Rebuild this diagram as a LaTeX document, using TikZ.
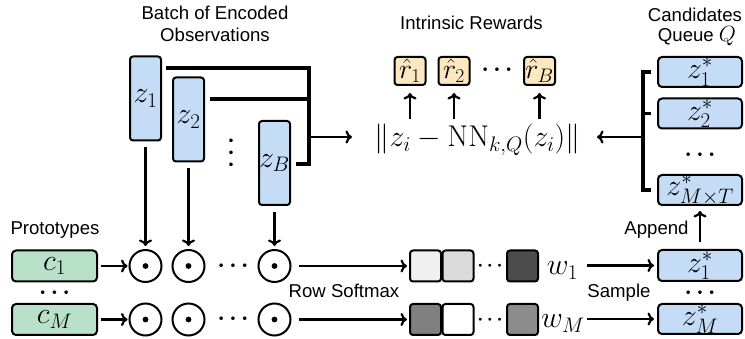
\documentclass[tikz,border=0pt]{standalone}
\usepackage{fix-cm}
\usepackage[no-math]{fontspec}
\setmainfont{Liberation Sans}
\usetikzlibrary{arrows.meta,calc}
\definecolor{zblue}{RGB}{197,220,246}
\definecolor{cgreen}{RGB}{185,224,201}
\definecolor{ryellow}{RGB}{252,232,192}
\newcommand\mfont{\fontsize{30}{34}\selectfont}
\newcommand\rfont{\fontsize{28}{32}\selectfont}
\newcommand\dfont{\fontsize{23}{25}\selectfont\boldmath}
\newcommand\sfont{\fontsize{19}{21}\selectfont\boldmath}
\newcommand\tfont{\fontsize{18.6}{21}\selectfont}
\begin{document}
\begin{tikzpicture}[x=1pt,y=-1pt,
  >={To[length=6.5pt,width=13pt]},
  zbox/.style={draw,line width=2pt,rounded corners=3pt,fill=zblue,minimum width=31pt,minimum height=84pt,inner sep=0pt,font=\mfont},
  qbox/.style={draw,line width=2pt,rounded corners=4pt,fill=zblue,minimum width=84pt,minimum height=30pt,inner sep=0pt,font=\mfont},
  cbox/.style={draw,line width=2pt,rounded corners=4pt,fill=cgreen,minimum width=85pt,minimum height=31pt,inner sep=0pt,font=\mfont},
  rbox/.style={draw,line width=2pt,rounded corners=3pt,fill=ryellow,minimum width=31pt,minimum height=28pt,inner sep=0pt,font=\rfont},
  sq/.style={draw,line width=2pt,rounded corners=3pt,minimum size=31pt,inner sep=0pt},
  odot/.style={circle,draw,line width=2pt,minimum size=32pt,inner sep=0pt,
    path picture={\fill (path picture bounding box.center) circle (2.9pt);}},
  lbl/.style={font=\tfont,anchor=base,inner sep=0pt},
  dots/.style={font=\dfont,anchor=base,inner sep=0pt},
  arr/.style={->,line width=2.2pt},
  brk/.style={line width=3.6pt}]
\useasboundingbox (0,0) rectangle (745,339);

% titles
\node[lbl] (tb1) at (215,19.5) {Batch of Encoded};
\node[lbl] (tb2) at (215,42) {Observations};
\node[lbl] (tir) at (471.5,30) {Intrinsic Rewards};
\node[lbl] (tc1) at (695,22) {Candidates};
\node[lbl] (tc2) at (697,42) {Queue {\fontsize{22}{24}\selectfont$Q$}};
\node[lbl] (tp) at (55,235) {Prototypes};
\node[lbl] (trs) at (344,298) {Row Softmax};
\node[lbl] (tsa) at (619,298) {Sample};
\node[lbl] (tap) at (656.5,235) {Append};

% encoded observations
\node[zbox] (z1) at (145.5,98.5) {$z_1$};
\node[zbox] (z2) at (188.5,119.5) {$z_2$};
\node[zbox] (zB) at (274.5,163) {$z_B$};
\node[font=\dfont,rotate=90,inner sep=0pt] (vd) at (231.5,153) {$\cdots$};

% left bracket
\coordinate (bz1) at (166,68);
\coordinate (bz2) at (210,99);
\coordinate (bzB) at (296,164);
\coordinate (bv) at (309,0);
\coordinate (ba) at (352,137);
\draw[brk] (bz1) -| (bv |- bzB) -- (bzB);
\draw[brk] (bz2) -- (bv |- bz2);
\draw[arr] (bv |- ba) -- (ba);

% formula and rewards
\node[font=\mfont,anchor=base,inner sep=0pt] (fm) at (477.5,147) {$\|z_i-\mathrm{NN}_{k,Q}(z_i)\|$};
\node[rbox] (r1) at (410,71) {$\hat r_1$};
\node[rbox] (r2) at (454,71) {$\hat r_2$};
\node[rbox] (rB) at (539.5,71) {$\hat r_B$};
\node[dots] (rd) at (497,76) {$\cdots$};
\coordinate (ftop) at (0,119);
\draw[arr] (r1.south |- ftop) -- ([yshift=-7pt]r1.south);
\draw[arr] (r2.south |- ftop) -- ([yshift=-7pt]r2.south);
\draw[arr] (rB.south |- ftop) -- ([yshift=-7pt]rB.south);

% candidates queue
\node[qbox] (q1) at (700,72) {$z^*_1$};
\node[qbox] (q2) at (700,113.5) {$z^*_2$};
\node[dots] (qd) at (700,160.5) {$\cdots$};
\node[qbox] (qT) at (700,190) {$z^*_{M\times T}$};
\coordinate (qv) at (643,0);
\coordinate (fa) at (597,137);
\draw[brk] ([xshift=-6pt]q1.west) -| (qv |- qT.west) -- ([xshift=-6pt]qT.west);
\draw[brk] ([xshift=-6pt]q2.west) -- (qv |- q2.west);
\draw[arr] (qv |- fa) -- (fa);

% prototypes
\node[cbox] (c1) at (54.5,266) {$c_1$};
\node[dots] (cd) at (54.5,298.5) {$\cdots$};
\node[cbox] (cM) at (54.5,319.5) {$c_M$};

% dot products
\node[odot] (o11) at (145.5,266) {};
\node[odot] (o12) at (188.5,266) {};
\node[dots] (od1) at (233,271.5) {$\cdots$};
\node[odot] (o1B) at (274.5,266) {};
\node[odot] (o21) at (145.5,319.5) {};
\node[odot] (o22) at (188.5,319.5) {};
\node[dots] (od2) at (233,325) {$\cdots$};
\node[odot] (o2B) at (274.5,319.5) {};

\draw[arr,shorten <=3pt,shorten >=1pt] (c1) -- (o11);
\draw[arr,shorten <=3pt,shorten >=1pt] (cM) -- (o21);
\draw[arr,shorten <=6pt,shorten >=3pt] (z1) -- (o11);
\draw[arr,shorten <=6pt,shorten >=3pt] (z2) -- (o12);
\draw[arr,shorten <=6pt,shorten >=3pt] (zB) -- (o1B);

% softmax weights
\node[sq,fill=black!6] (s11) at (425.5,266) {};
\node[sq,fill=black!14] (s12) at (458,266) {};
\node[font=\sfont,anchor=base,inner sep=0pt] (sd1) at (490,270.5) {$\cdots$};
\node[sq,fill=black!70] (s1M) at (522.5,266) {};
\node[sq,fill=black!50] (s21) at (425.5,319.5) {};
\node[sq,fill=white] (s22) at (458,319.5) {};
\node[font=\sfont,anchor=base,inner sep=0pt] (sd2) at (490,324) {$\cdots$};
\node[sq,fill=black!45] (s2M) at (522.5,319.5) {};
\node[font=\mfont,anchor=base,inner sep=1pt] (w1) at (562.5,275) {$w_1$};
\node[font=\mfont,anchor=base,inner sep=1pt] (wM) at (563,328) {$w_M$};

\draw[arr,shorten <=7pt,shorten >=2pt] (o1B) -- (s11);
\draw[arr,shorten <=7pt,shorten >=2pt] (o2B) -- (s21);

% sampled candidates
\node[qbox,minimum height=31pt] (qz1) at (700,265.5) {$z^*_1$};
\node[dots] (qzd) at (700,298.5) {$\cdots$};
\node[qbox] (qzM) at (700,319) {$z^*_M$};
\draw[arr,shorten <=8pt,shorten >=3pt] (w1.east |- qz1.west) -- (qz1.west);
\draw[arr,shorten <=1pt,shorten >=3pt] (wM.east |- qzM.west) -- (qzM.west);
\draw[arr,shorten <=7pt,shorten >=5pt] (qz1) -- (qT);
\end{tikzpicture}
\end{document}
